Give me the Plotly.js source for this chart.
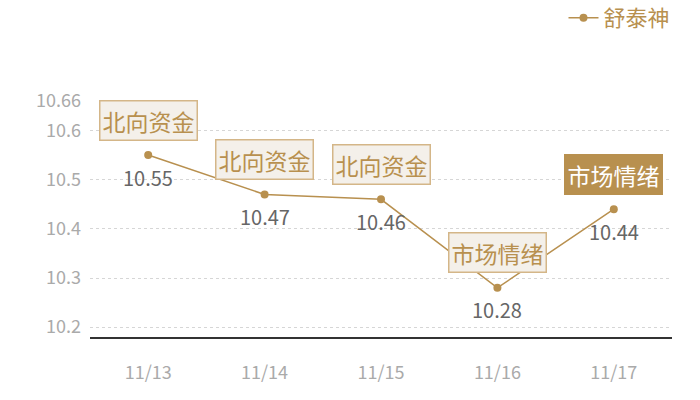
<!DOCTYPE html>
<html>
<head>
<meta charset="utf-8">
<script src="https://cdn.plot.ly/plotly-3.0.1.min.js"></script>
<style>
  html, body { margin: 0; padding: 0; background: #fff; }
  #chart { width: 700px; height: 400px; }
</style>
</head>
<body>
<div id="chart"></div>
<script>
// Daily closing values, 舒泰神
const dates = ["11/13", "11/14", "11/15", "11/16", "11/17"];
const prices = [10.55, 10.47, 10.46, 10.28, 10.44];
const tags = ["北向资金", "北向资金", "北向资金", "市场情绪", "市场情绪"];
const highlighted = [false, false, false, false, true];
const yTicks = [10.2, 10.3, 10.4, 10.5, 10.6, 10.66];

const GOLD = "#b8904f";
const FONT = "'Noto Sans CJK SC', 'Open Sans', sans-serif";

const trace = {
    x: dates,
    y: prices,
    type: "scatter",
    mode: "lines+markers",
    name: "舒泰神",
    line: { color: GOLD, width: 1.5 },
    marker: { color: GOLD, size: 8 },
    hoverinfo: "skip",
};

// value labels under each point
const valueNotes = dates.map((d, i) => ({
    x: d, y: prices[i], xref: "x", yref: "y",
    text: prices[i].toFixed(2), showarrow: false,
    yshift: -22,
    font: { size: 20, color: "#666", family: FONT },
}));

// tag boxes above each point
const tagNotes = dates.map((d, i) => ({
    x: d, y: prices[i], xref: "x", yref: "y",
    text: tags[i], showarrow: false,
    yshift: 35,
    font: { size: 23, color: highlighted[i] ? "#fff" : GOLD, family: FONT },
    bgcolor: highlighted[i] ? GOLD : "#f4f0ea",
    bordercolor: highlighted[i] ? GOLD : "#d4b688",
    borderwidth: 1.5,
    borderpad: 2,
}));

const layout = {
    width: 700,
    height: 400,
    paper_bgcolor: "#fff",
    plot_bgcolor: "#fff",
    font: { family: FONT },
    margin: { l: 90, r: 28, t: 101, b: 63, autoexpand: false },
    showlegend: true,
    legend: {
        x: 0.965, xanchor: "right", xref: "container",
        y: 0.955, yanchor: "middle", yref: "container",
        orientation: "h",
        font: { size: 22, color: GOLD, family: FONT },
        bgcolor: "rgba(0,0,0,0)",
        itemwidth: 30,
    },
    xaxis: {
        type: "category",
        range: [-0.5, 4.5],
        showgrid: false,
        zeroline: false,
        showline: true,
        linecolor: "#333",
        linewidth: 1.5,
        ticks: "",
        tickfont: { size: 18, color: "#aaa", family: FONT },
        ticklabelstandoff: 19,
        fixedrange: true,
    },
    yaxis: {
        range: [10.18, 10.66],
        tickvals: yTicks,
        ticktext: yTicks.map(String),
        showgrid: true,
        gridcolor: "#d6d6d6",
        griddash: "dot",
        gridwidth: 1,
        zeroline: false,
        showline: false,
        ticks: "",
        tickfont: { size: 18, color: "#aaa", family: FONT },
        ticklabelstandoff: 8,
        fixedrange: true,
    },
    annotations: [...valueNotes, ...tagNotes],
};

Plotly.newPlot("chart", [trace], layout, { displayModeBar: false, staticPlot: true });
</script>
</body>
</html>
